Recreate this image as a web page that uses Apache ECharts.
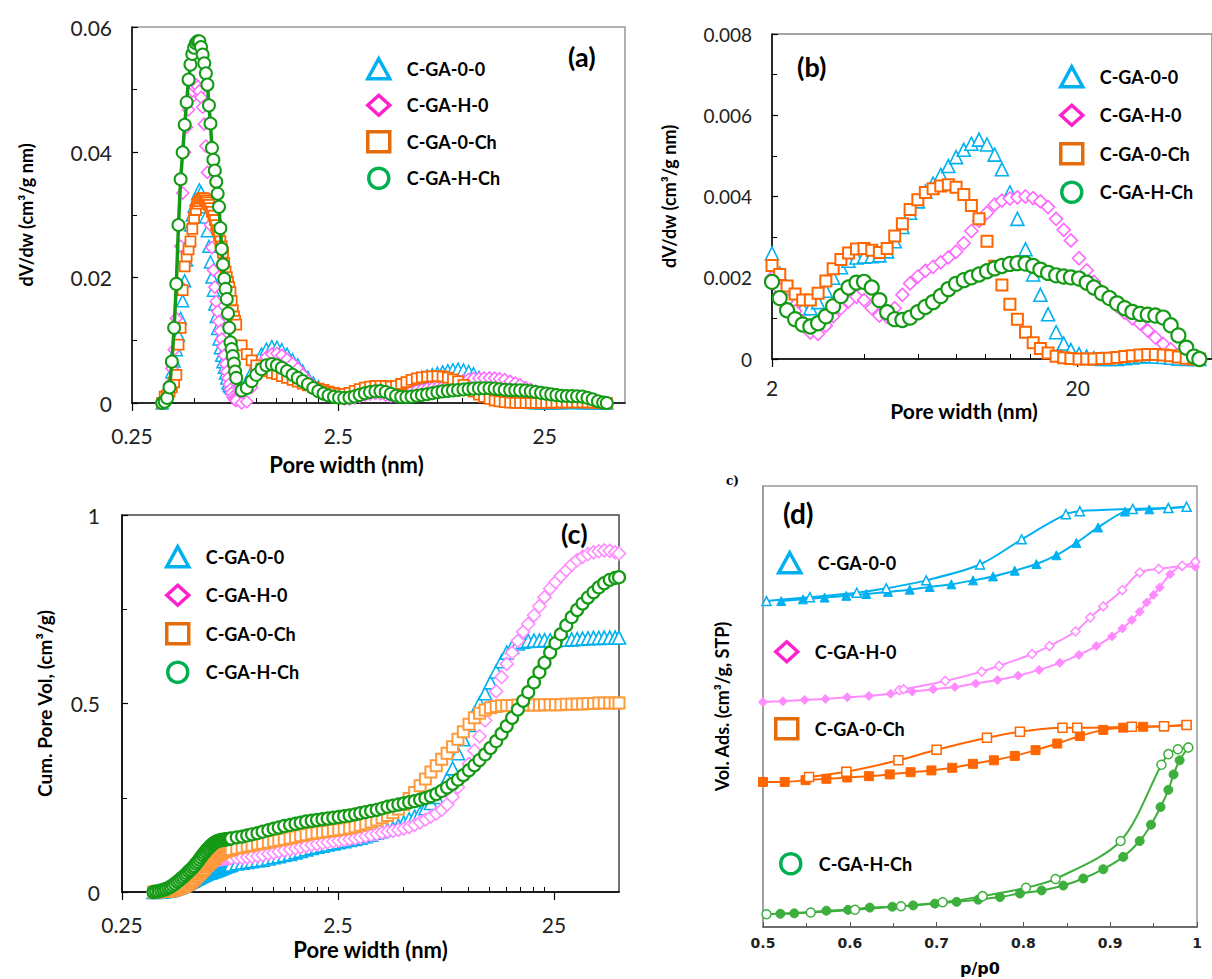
<!DOCTYPE html>
<html><head><meta charset="utf-8">
<script src="https://cdn.jsdelivr.net/npm/echarts@6/dist/echarts.min.js"></script>
<style>html,body{margin:0;padding:0;background:#fff;}#c{width:1212px;height:979px;}</style>
</head><body><div id="c"></div>
<script>
// ---------- DATA ----------
const seriesNames = ['C-GA-0-0', 'C-GA-H-0', 'C-GA-0-Ch', 'C-GA-H-Ch'];

// pore width (nm), shared by panels (a), (b), (c)
const poreWidth = [0.35,0.36,0.37,0.38,0.39,0.40,0.41,0.42,0.43,0.44,0.45,0.46,0.47,0.48,0.49,0.50,0.51,0.52,0.53,0.54,0.55,0.56,0.57,0.58,0.59,
0.60,0.61,0.62,0.63,0.64,0.65,0.66,0.67,0.68,0.69,0.70,0.71,0.72,0.73,0.74,0.75,0.76,0.77,0.78,0.79,
0.80,0.85,0.90,0.95,1.00,
1.06,1.12,1.19,1.26,1.33,1.41,1.50,1.59,1.68,1.78,1.89,2.00,
2.12,2.24,2.38,2.52,2.67,2.83,3.00,3.17,3.36,3.56,3.78,4.00,
4.24,4.49,4.76,5.04,5.34,5.66,6.00,6.35,6.73,7.13,7.55,8.00,
8.48,8.98,9.51,10.1,10.7,11.3,12.0,12.7,13.5,14.3,15.1,16.0,
17.0,18.0,19.0,20.2,21.4,22.6,24.0,25.4,26.9,28.5,30.2,32.0,
33.9,35.9,38.1,40.3,42.7,45.3,48.0,50.0];

// dV/dw (cm3/g nm)
const dvdw_GA00 = [0.0000,0.0008,0.0019,0.0033,0.0050,0.0067,0.0085,0.0108,0.0135,0.0163,0.0195,0.0228,0.0258,0.0284,0.0300,0.0314,0.0324,0.0334,0.0340,0.0336,0.0325,0.0313,0.0297,0.0275,0.0250,
0.0225,0.0201,0.0180,0.0158,0.0138,0.0119,0.0102,0.0088,0.0076,0.0066,0.0057,0.0048,0.0040,0.0032,0.0028,0.0026,0.0024,0.0023,0.0022,0.0022,
0.0022,0.0024,0.0034,0.0050,0.0066,
0.0078,0.0086,0.0090,0.0089,0.0085,0.0078,0.0069,0.0061,0.0051,0.0041,0.0032,0.0026,
0.0021,0.0017,0.0014,0.00125,0.00125,0.0014,0.00168,0.0020,0.00226,0.00242,0.0025,0.00252,
0.00253,0.00255,0.00265,0.0029,0.00325,0.0036,0.00388,0.00412,0.00432,0.00453,0.00475,0.00497,
0.00515,0.0053,0.0054,0.00528,0.00503,0.00467,0.0041,0.00345,0.0027,0.00208,0.00158,0.0011,
0.00066,0.00038,0.00022,0.00012,0.00006,0.00002,0,0,0,0.00002,0.00004,0.00006,
0.00007,0.00006,0.00005,0.00003,0.00001,0,0,0];
const dvdw_GAH0 = [0.0000,0.0006,0.0015,0.0030,0.0055,0.0085,0.0135,0.0190,0.0250,0.0335,0.0400,0.0440,0.0468,0.0486,0.0498,0.0505,0.0508,0.0505,0.0498,0.0488,0.0472,0.0445,0.0410,0.0368,0.0325,
0.0284,0.0248,0.0212,0.0185,0.0162,0.0146,0.0130,0.0115,0.0102,0.0090,0.0076,0.0062,0.0050,0.0040,0.0030,0.0022,0.0016,0.0010,0.0007,0.0005,
0.0004,0.0000,0.0002,0.0025,0.0045,
0.0063,0.0073,0.0078,0.0079,0.0076,0.0070,0.0063,0.0055,0.0045,0.0036,0.0027,0.0020,
0.00172,0.00145,0.00118,0.00093,0.00065,0.00062,0.00082,0.00105,0.00125,0.00142,0.00153,0.00145,
0.00125,0.00107,0.00104,0.00125,0.00158,0.00186,0.00203,0.00217,0.00227,0.00238,0.0025,0.00264,
0.00285,0.00315,0.0034,0.0036,0.0038,0.0039,0.00395,0.00398,0.004,0.00396,0.00388,0.00374,
0.00345,0.00318,0.00292,0.00248,0.00218,0.0019,0.00166,0.00148,0.0013,0.00114,0.001,0.00087,
0.0007,0.00053,0.00037,0.00024,0.0001,0.00002,0,0];
const dvdw_GA0Ch = [0.0000,0.0010,0.0012,0.0018,0.0025,0.0033,0.0045,0.0093,0.0120,0.0180,0.0218,0.0234,0.0245,0.0258,0.0278,0.0295,0.0308,0.0318,0.0322,0.0326,0.0327,0.0326,0.0323,0.0320,0.0316,
0.0311,0.0305,0.0299,0.0292,0.0284,0.0276,0.0267,0.0258,0.0250,0.0240,0.0223,0.0210,0.0201,0.0193,0.0185,0.0177,0.0163,0.0148,0.0138,0.0131,
0.0125,0.0092,0.0078,0.0068,0.0060,
0.0055,0.0051,0.0048,0.0046,0.0043,0.0040,0.0037,0.0034,0.0031,0.0028,0.0025,0.0023,
0.00208,0.0018,0.0016,0.00145,0.00145,0.00162,0.00192,0.00222,0.00245,0.00261,0.00271,0.00272,
0.00268,0.00262,0.00272,0.00303,0.00333,0.00368,0.00392,0.0041,0.00419,0.00426,0.00429,0.00423,
0.00405,0.00378,0.00345,0.0029,0.00228,0.00182,0.00135,0.00098,0.00066,0.0004,0.00026,0.00015,
0.00007,0.00003,0.00001,0,0,0,0.00001,0.00002,0.00004,0.00006,0.00008,0.0001,
0.00011,0.00011,0.0001,0.00008,0.00005,0.00002,0,0];
const dvdw_GAHCh = [0.0000,0.0002,0.0008,0.0025,0.0066,0.0120,0.0190,0.0284,0.0357,0.0400,0.0444,0.0480,0.0516,0.0540,0.0557,0.0567,0.0574,0.0577,0.0577,0.0568,0.0556,0.0542,0.0526,0.0508,0.0475,
0.0446,0.0407,0.0388,0.0371,0.0353,0.0334,0.0313,0.0279,0.0246,0.0221,0.0198,0.0182,0.0166,0.0143,0.0120,0.0097,0.0086,0.0075,0.0063,0.0050,
0.0040,0.0020,0.0024,0.0035,0.0045,
0.0054,0.0060,0.0062,0.0060,0.0056,0.0051,0.0045,0.0040,0.0035,0.0030,0.0024,0.0019,
0.0015,0.0012,0.00098,0.00085,0.0008,0.00088,0.00105,0.0013,0.00155,0.00176,0.00188,0.0019,
0.00176,0.00145,0.00115,0.00098,0.00096,0.00102,0.00115,0.00128,0.0014,0.00155,0.00172,0.00185,
0.00194,0.00201,0.00208,0.00216,0.00223,0.00229,0.00234,0.00236,0.00235,0.00229,0.0022,0.00212,
0.00206,0.00203,0.00201,0.00198,0.00188,0.00176,0.00162,0.0015,0.00137,0.00125,0.00116,0.00111,
0.00109,0.00107,0.00102,0.00083,0.00058,0.00028,0.00006,0];

// cumulative pore volume (cm3/g)
const cum_GA00 = [0.000,0.000,0.001,0.001,0.002,0.003,0.004,0.005,0.007,0.009,0.011,0.013,0.015,0.017,0.020,0.022,0.025,0.027,0.030,0.032,0.035,0.037,0.039,0.042,0.044,
0.046,0.048,0.050,0.051,0.052,0.053,0.055,0.056,0.057,0.059,0.060,0.062,0.063,0.065,0.066,0.068,0.069,0.070,0.071,0.072,
0.073,0.076,0.078,0.080,0.082,
0.084,0.086,0.089,0.092,0.095,0.098,0.101,0.105,0.109,0.113,0.117,0.120,
0.123,0.126,0.129,0.132,0.135,0.138,0.141,0.144,0.148,0.152,0.157,0.161,
0.165,0.169,0.176,0.184,0.193,0.200,0.210,0.222,0.236,0.252,0.272,0.300,
0.328,0.368,0.405,0.443,0.475,0.500,0.527,0.556,0.585,0.612,0.635,0.650,
0.659,0.664,0.666,0.667,0.667,0.668,0.668,0.668,0.669,0.669,0.670,0.671,
0.672,0.673,0.674,0.674,0.675,0.675,0.675,0.675];
const cum_GAH0 = [0.000,0.000,0.001,0.002,0.003,0.004,0.006,0.008,0.010,0.013,0.016,0.019,0.023,0.027,0.031,0.035,0.039,0.043,0.047,0.051,0.055,0.059,0.062,0.065,0.068,
0.071,0.073,0.075,0.077,0.079,0.080,0.082,0.083,0.084,0.085,0.086,0.087,0.088,0.088,0.089,0.089,0.089,0.090,0.090,0.090,
0.090,0.091,0.091,0.092,0.093,
0.095,0.098,0.101,0.104,0.107,0.110,0.113,0.116,0.119,0.122,0.125,0.127,
0.130,0.132,0.134,0.136,0.138,0.140,0.142,0.145,0.148,0.151,0.154,0.157,
0.160,0.162,0.165,0.168,0.172,0.178,0.185,0.192,0.200,0.208,0.218,0.232,
0.252,0.278,0.306,0.340,0.375,0.413,0.455,0.492,0.532,0.570,0.605,0.635,
0.666,0.690,0.711,0.734,0.758,0.782,0.805,0.822,0.838,0.853,0.868,0.880,
0.889,0.896,0.901,0.904,0.906,0.905,0.901,0.898];
const cum_GA0Ch = [0.000,0.000,0.000,0.001,0.001,0.001,0.002,0.003,0.004,0.005,0.007,0.009,0.011,0.013,0.016,0.019,0.022,0.026,0.030,0.034,0.039,0.043,0.048,0.052,0.057,
0.061,0.066,0.070,0.074,0.078,0.082,0.086,0.089,0.093,0.096,0.099,0.101,0.103,0.105,0.107,0.108,0.109,0.110,0.111,0.112,
0.113,0.116,0.119,0.122,0.124,
0.127,0.129,0.132,0.135,0.137,0.140,0.143,0.146,0.149,0.152,0.155,0.157,
0.159,0.161,0.163,0.165,0.167,0.170,0.173,0.177,0.181,0.186,0.191,0.197,
0.203,0.210,0.220,0.232,0.248,0.264,0.282,0.300,0.318,0.335,0.352,0.368,
0.385,0.405,0.425,0.445,0.462,0.474,0.483,0.489,0.492,0.494,0.495,0.495,
0.496,0.496,0.496,0.496,0.496,0.497,0.497,0.497,0.497,0.498,0.498,0.499,
0.499,0.500,0.500,0.501,0.501,0.501,0.501,0.501];
const cum_GAHCh = [0.000,0.001,0.002,0.004,0.006,0.008,0.011,0.014,0.018,0.022,0.027,0.031,0.036,0.040,0.045,0.050,0.055,0.059,0.064,0.069,0.075,0.080,0.086,0.092,0.098,
0.103,0.108,0.113,0.117,0.121,0.125,0.128,0.131,0.133,0.135,0.136,0.137,0.138,0.138,0.139,0.139,0.140,0.140,0.141,0.141,
0.142,0.145,0.147,0.150,0.153,
0.156,0.160,0.164,0.168,0.171,0.175,0.178,0.181,0.184,0.187,0.189,0.191,
0.193,0.195,0.197,0.199,0.201,0.203,0.206,0.209,0.212,0.215,0.218,0.222,
0.226,0.229,0.232,0.235,0.238,0.241,0.245,0.249,0.254,0.260,0.268,0.277,
0.287,0.298,0.310,0.323,0.336,0.350,0.365,0.382,0.400,0.420,0.440,0.462,
0.484,0.507,0.530,0.556,0.583,0.608,0.635,0.660,0.684,0.707,0.729,0.748,
0.765,0.781,0.795,0.808,0.819,0.828,0.833,0.835];

// isotherms (d): relative pressure and volume adsorbed (arbitrary offset units)
const p_GA00_ads = [0.521,0.546,0.571,0.596,0.619,0.644,0.669,0.692,0.717,0.742,0.765,0.790,0.815,0.838,0.861,0.886,0.917,0.945,0.967,0.988];
const v_GA00_ads = [73.9,74.3,74.7,75.1,75.5,76.0,76.5,77.1,77.7,78.6,79.5,80.8,82.3,84.3,87.1,90.6,94.2,94.7,95.0,95.3];
const p_GA00_des = [0.504,0.554,0.608,0.642,0.688,0.750,0.798,0.849,0.865,0.926,0.967,0.988];
const v_GA00_des = [73.9,74.8,75.8,76.8,78.6,82.2,87.9,93.6,94.3,94.8,95.0,95.3];
const p_GAH0_ads = [0.500,0.523,0.548,0.572,0.597,0.622,0.647,0.672,0.696,0.721,0.745,0.770,0.794,0.818,0.842,0.864,0.884,0.902,0.914,0.925,0.934,0.942,0.950,0.957,0.969,0.983,0.998];
const v_GAH0_ads = [51.0,51.2,51.5,51.7,52.1,52.4,52.9,53.4,53.9,54.4,55.2,56.0,57.0,58.3,59.9,61.7,63.7,65.9,67.7,69.6,71.5,73.6,75.3,77.0,80.0,81.8,81.7];
const p_GAH0_des = [0.657,0.662,0.710,0.752,0.772,0.810,0.830,0.860,0.877,0.892,0.914,0.934,0.956,0.983,0.998];
const v_GAH0_des = [53.7,53.9,55.8,57.9,59.2,61.9,63.7,67.0,70.2,72.7,76.4,80.4,81.2,81.9,82.8];
const p_GA0Ch_ads = [0.500,0.525,0.549,0.573,0.597,0.622,0.646,0.670,0.694,0.718,0.742,0.766,0.790,0.814,0.839,0.865,0.892,0.915,0.938,0.962,0.988];
const v_GA0Ch_ads = [32.9,32.9,33.3,33.6,33.9,34.2,34.6,35.1,35.5,36.1,37.0,37.8,38.8,40.1,41.6,43.3,44.7,45.2,45.4,45.5,45.8];
const p_GA0Ch_des = [0.553,0.596,0.656,0.700,0.758,0.796,0.845,0.862,0.925,0.962,0.988];
const v_GA0Ch_des = [34.0,35.2,37.8,40.2,42.9,44.3,45.2,45.2,45.4,45.5,45.8];
const p_GAHCh_ads = [0.520,0.536,0.573,0.598,0.623,0.649,0.673,0.698,0.723,0.748,0.773,0.796,0.821,0.846,0.869,0.892,0.915,0.934,0.947,0.958,0.967,0.973,0.980,0.990];
const v_GAHCh_ads = [3.0,3.1,3.7,3.9,4.4,4.6,4.9,5.3,5.7,6.2,6.8,7.6,8.3,9.4,11.0,13.1,15.9,19.5,23.2,27.2,31.1,34.6,37.8,40.7];
const p_GAHCh_des = [0.504,0.555,0.606,0.659,0.707,0.753,0.803,0.837,0.912,0.959,0.967,0.978,0.990];
const v_GAHCh_des = [2.9,3.3,3.9,4.7,5.6,7.0,8.9,10.9,19.5,36.8,39.2,40.3,40.7];

// tick label units: log axes are drawn in units of their first labelled tick
const unitA = 0.25, unitB = 2, unitC = 0.25;

// ---------- STYLE ----------
const FONT = 'Lato, "Open Sans", sans-serif';
const BLUE = '#00B0F0', PINK = '#FF66FF', PINK_C = '#FF8CFF', ORANGE = '#FF6600', ORANGE_C = '#FF9A3C', GREEN = '#159A15', GREEN_D = '#3DAF3D';
const LEG = [{c:'#00B0F0', icon:'triangle'}, {c:'#FF22CC', icon:'diamond'}, {c:'#E46C0A', icon:'rect'}, {c:'#00B050', icon:'circle'}];

function fmt(v){ return String(+v.toPrecision(6)); }
function pairs(xs, ys, unit, minX){
  const out = [];
  for (let i = 0; i < xs.length; i++) { if (minX == null || xs[i] >= minX) out.push([xs[i] / (unit || 1), ys[i]]); }
  return out;
}
function mainLogX(gi, max, unit, nameGap, margin, nameSize, padR){
  return {type:'log', logBase:10, gridIndex:gi, min:1, max:max, position:'bottom',
    axisLine:{show:true, lineStyle:{color:'#000', width:1.5}},
    axisTick:{show:true, inside:false, length:8, lineStyle:{color:'#000', width:1.2}},
    minorTick:{show:false}, splitLine:{show:false}, minorSplitLine:{show:false},
    axisLabel:{formatter:v => fmt(v * unit), showMaxLabel:false, margin:margin, fontSize:21, color:'#222', fontFamily:FONT},
    name:'Pore width (nm)', nameLocation:'middle', nameGap:nameGap,
    nameTextStyle:{fontSize:nameSize, fontWeight:'bold', color:'#000', fontFamily:FONT, padding:[0, padR, 0, 0]}};
}
function minorLogX(gi, max){
  return {type:'log', logBase:10, gridIndex:gi, min:1, max:max, position:'bottom',
    axisLine:{show:false}, axisTick:{show:false, inside:true}, axisLabel:{show:false},
    splitLine:{show:false}, minorSplitLine:{show:false},
    minorTick:{show:true, splitNumber:9, length:5, lineStyle:{color:'#000', width:1}}};
}
function valY(gi, max, interval, name, nameGap, nameSize, margin, fontSize){
  return {type:'value', gridIndex:gi, min:0, max:max, interval:interval,
    axisLine:{show:true, lineStyle:{color:'#000', width:1.5}},
    axisTick:{show:true, inside:true, length:6, lineStyle:{color:'#000', width:1.2}},
    minorTick:{show:true, splitNumber:2, length:5, lineStyle:{color:'#000', width:1}},
    splitLine:{show:false}, minorSplitLine:{show:false},
    axisLabel:{margin:margin, fontSize:fontSize, color:'#222', fontFamily:FONT},
    name:name, nameLocation:'middle', nameGap:nameGap,
    nameTextStyle:{fontSize:nameSize, fontWeight:'bold', color:'#000', fontFamily:FONT}};
}
function hollowScatter(name, xi, data, symbol, size, color, bw){
  return {type:'scatter', name:name, xAxisIndex:xi, yAxisIndex:xi, data:data, symbol:symbol, symbolSize:size,
    itemStyle:{color:'#fff', borderColor:color, borderWidth:bw, opacity:1}, silent:true, animation:false, clip:true};
}
function legendBlock(left, top, gap, items){
  return {orient:'vertical', left:left, top:top, itemWidth:22, itemHeight:20, itemGap:gap, selectedMode:false,
    textStyle:{fontFamily:FONT, fontSize:18, fontWeight:'bold', color:'#000', padding:[0,0,0,12]},
    data: items.map(i => ({name:seriesNames[i], icon:LEG[i].icon, itemStyle:{color:'#fff', borderColor:LEG[i].c, borderWidth:3.5}}))};
}
function iso(name, p, v, symbol, color, filled){
  return {type:'line', name:name, xAxisIndex:3, yAxisIndex:3, data:pairs(p, v), smooth:0.3, symbol:symbol, symbolSize:9,
    showAllSymbol:true, lineStyle:{color:color, width:2},
    itemStyle: filled ? {color:color, borderColor:color, borderWidth:1} : {color:'#fff', borderColor:color, borderWidth:1.5},
    silent:true, animation:false};
}

const dv = [dvdw_GA00, dvdw_GAH0, dvdw_GA0Ch, dvdw_GAHCh];
const cum = [cum_GA00, cum_GAH0, cum_GA0Ch, cum_GAHCh];

const series = [
  // (a)
  hollowScatter(seriesNames[0], 0, pairs(poreWidth, dv[0], unitA), 'triangle', 12, BLUE, 1.5),
  hollowScatter(seriesNames[1], 0, pairs(poreWidth, dv[1], unitA), 'diamond', 12, PINK, 1.5),
  hollowScatter(seriesNames[2], 0, pairs(poreWidth, dv[2], unitA), 'rect', 10, ORANGE, 1.8),
  {type:'line', name:seriesNames[3], xAxisIndex:0, yAxisIndex:0, data:pairs(poreWidth, dv[3], unitA), symbol:'circle', symbolSize:12,
    showAllSymbol:true, lineStyle:{color:GREEN, width:3.5}, itemStyle:{color:'#fff', borderColor:GREEN, borderWidth:2}, silent:true, animation:false},
  // (b)
  hollowScatter(seriesNames[0], 1, pairs(poreWidth, dv[0], unitB, 2), 'triangle', 13, BLUE, 1.6),
  hollowScatter(seriesNames[1], 1, pairs(poreWidth, dv[1], unitB, 2), 'diamond', 13, PINK, 1.6),
  hollowScatter(seriesNames[2], 1, pairs(poreWidth, dv[2], unitB, 2), 'rect', 11, ORANGE, 2),
  hollowScatter(seriesNames[3], 1, pairs(poreWidth, dv[3], unitB, 2), 'circle', 14, GREEN, 2.2),
  // (c)
  hollowScatter(seriesNames[0], 2, pairs(poreWidth, cum[0], unitC), 'triangle', 13, BLUE, 1.6),
  hollowScatter(seriesNames[1], 2, pairs(poreWidth, cum[1], unitC), 'diamond', 13, PINK_C, 1.6),
  hollowScatter(seriesNames[2], 2, pairs(poreWidth, cum[2], unitC), 'rect', 11, ORANGE_C, 2),
  hollowScatter(seriesNames[3], 2, pairs(poreWidth, cum[3], unitC), 'circle', 12, GREEN, 2.2),
  // (d)
  iso(seriesNames[0], p_GA00_ads, v_GA00_ads, 'triangle', BLUE, true),
  iso(seriesNames[0], p_GA00_des, v_GA00_des, 'triangle', BLUE, false),
  iso(seriesNames[1], p_GAH0_ads, v_GAH0_ads, 'diamond', PINK_C, true),
  iso(seriesNames[1], p_GAH0_des, v_GAH0_des, 'diamond', PINK_C, false),
  iso(seriesNames[2], p_GA0Ch_ads, v_GA0Ch_ads, 'rect', ORANGE, true),
  iso(seriesNames[2], p_GA0Ch_des, v_GA0Ch_des, 'rect', ORANGE, false),
  iso(seriesNames[3], p_GAHCh_ads, v_GAHCh_ads, 'circle', GREEN_D, true),
  iso(seriesNames[3], p_GAHCh_des, v_GAHCh_des, 'circle', GREEN_D, false)
];

const option = {
  animation:false,
  backgroundColor:'#fff',
  grid:[
    {left:132, top:27, width:493, height:376, show:true, borderColor:'#999', borderWidth:1.5, backgroundColor:'transparent', outerBoundsMode:'none'},
    {left:772, top:34, width:440, height:325, show:true, borderColor:'#888', borderWidth:1.5, backgroundColor:'transparent', outerBoundsMode:'none'},
    {left:122, top:515, width:497, height:377, show:true, borderColor:'#444', borderWidth:1.5, backgroundColor:'transparent', outerBoundsMode:'none'},
    {left:763, top:486, width:434, height:441, show:true, borderColor:'#999', borderWidth:1.5, backgroundColor:'transparent', outerBoundsMode:'none'}
  ],
  xAxis:[
    mainLogX(0, 245, unitA, 50, 22, 22, 64),
    mainLogX(1, 27.5, unitB, 41, 18, 21, 56),
    mainLogX(2, 50 / unitC, unitC, 46, 22, 22, 0),
    {type:'value', gridIndex:3, min:0.5, max:1, interval:0.1,
      axisLine:{show:true, lineStyle:{color:'#555', width:1.5}},
      axisTick:{show:true, inside:true, length:5, lineStyle:{color:'#555'}},
      minorTick:{show:true, splitNumber:2, length:4, lineStyle:{color:'#555'}},
      splitLine:{show:false},
      axisLabel:{margin:9, fontSize:14, fontWeight:'bold', color:'#222', fontFamily:'"DejaVu Sans", sans-serif'},
      name:'p/p0', nameLocation:'middle', nameGap:33,
      nameTextStyle:{fontSize:16, fontWeight:'bold', color:'#000', fontFamily:'"DejaVu Sans", sans-serif'}},
    minorLogX(0, 245), minorLogX(1, 27.5), minorLogX(2, 50 / unitC)
  ],
  yAxis:[
    valY(0, 0.06, 0.02, 'dV/dw (cm³/g nm)', 97, 18, 20, 21),
    valY(1, 0.008, 0.002, 'dV/dw (cm³/g nm)', 94, 18, 20, 19),
    valY(2, 1, 0.5, 'Cum. Pore Vol, (cm³/g)', 68, 19, 22, 21),
    {type:'value', gridIndex:3, min:0, max:100,
      axisLine:{show:true, lineStyle:{color:'#999', width:1.5}}, axisTick:{show:false}, axisLabel:{show:false}, splitLine:{show:false},
      name:'Vol. Ads. (cm³/g, STP)', nameLocation:'middle', nameGap:32,
      nameTextStyle:{fontSize:18, fontWeight:'bold', color:'#000', fontFamily:FONT}}
  ],
  legend:[
    legendBlock(361, 52, 13, [0,1,2,3]),
    legendBlock(1054, 60, 15, [0,1,2,3]),
    legendBlock(160, 540, 15, [0,1,2,3]),
    legendBlock(772, 546, 10, [0]),
    legendBlock(769, 635, 10, [1]),
    legendBlock(769, 712, 10, [2]),
    legendBlock(774, 847, 10, [3])
  ],
  graphic:[
    {type:'text', left:568, top:43, style:{text:'(a)', fontSize:27, fontWeight:'bold', fontFamily:FONT, fill:'#000'}},
    {type:'text', left:797, top:53, style:{text:'(b)', fontSize:27, fontWeight:'bold', fontFamily:FONT, fill:'#000'}},
    {type:'text', left:561, top:520, style:{text:'(c)', fontSize:27, fontWeight:'bold', fontFamily:FONT, fill:'#000'}},
    {type:'text', left:783, top:499, style:{text:'(d)', fontSize:28, fontWeight:'bold', fontFamily:FONT, fill:'#000'}},
    {type:'text', left:726, top:475, style:{text:'c)', fontSize:12, fontWeight:'bold', fontFamily:'"DejaVu Serif", serif', fill:'#000'}}
  ],
  series: series
};

const chart = echarts.init(document.getElementById('c'), null, {renderer:'svg', width:1212, height:979});
chart.setOption(option);
</script>
</body></html>
